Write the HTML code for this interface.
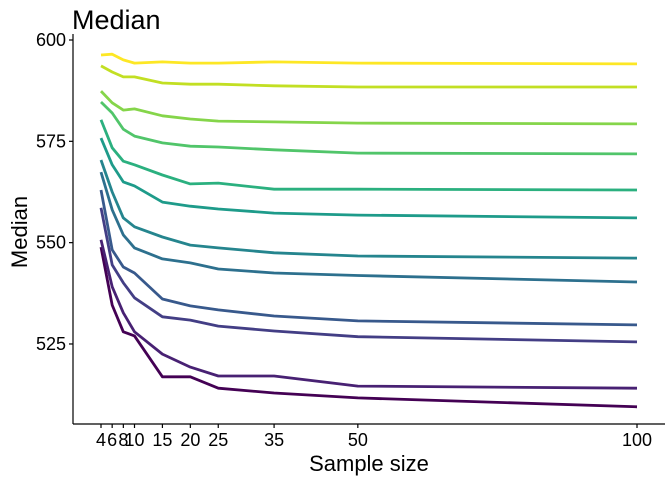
<!DOCTYPE html>
<html><head><meta charset="utf-8"><style>
body{margin:0;background:#fff;}
svg{display:block;font-family:"Liberation Sans",Arial,sans-serif;}
</style></head><body>
<svg id="chart" width="672" height="480">
<text x="72" y="29" font-size="27" fill="#000">Median</text>
<text transform="translate(27,232) rotate(-90)" text-anchor="middle" font-size="22" fill="#000">Median</text>
<text x="369" y="471" text-anchor="middle" font-size="22" fill="#000">Sample size</text>
<g id="axes"></g><g id="lines"></g>
</svg>
<script>
const sampleSizes=[4,6,8,10,15,20,25,35,50,100];
const yTicks=[525,550,575,600];
const s1=[548.9,534.6,528.0,527.0,516.9,516.9,514.1,512.9,511.7,509.5];
const s2=[550.7,539.1,532.7,528.0,522.5,519.3,517.1,517.1,514.6,514.1];
const s3=[558.6,544.5,540.1,536.4,531.7,530.9,529.4,528.2,526.8,525.5];
const s4=[563.0,548.2,544.0,542.5,536.1,534.4,533.4,531.9,530.7,529.7];
const s5=[567.4,558.1,551.9,548.7,546.0,545.0,543.5,542.5,541.9,540.3];
const s6=[570.4,562.5,556.1,553.9,551.4,549.4,548.7,547.5,546.7,546.2];
const s7=[575.8,569.2,565.0,564.0,560.0,559.0,558.3,557.3,556.8,556.1];
const s8=[580.3,573.4,570.1,569.2,566.7,564.5,564.7,563.2,563.2,563.0];
const s9=[584.7,582.0,578.0,576.3,574.6,573.8,573.6,572.9,572.1,571.9];
const s10=[587.4,584.5,582.7,583.0,581.3,580.5,580.0,579.8,579.5,579.3];
const s11=[593.6,592.1,590.9,590.9,589.4,589.1,589.1,588.7,588.4,588.4];
const s12=[596.3,596.5,595.1,594.3,594.6,594.3,594.3,594.6,594.3,594.1];
const seriesList=[s1,s2,s3,s4,s5,s6,s7,s8,s9,s10,s11,s12];
const colors=["#440154","#482173","#433E85","#38598C","#2D708E","#25858E","#1E9B8A","#2BB07F","#51C56A","#85D54A","#C2DF23","#FDE725"];
const NS="http://www.w3.org/2000/svg";
const xS=v=>101+(v-4)*(637-101)/96;
const yS=v=>40+(600-v)*4.053;
const axes=document.getElementById('axes');
function mk(tag,attrs,parent){const e=document.createElementNS(NS,tag);for(const k in attrs)e.setAttribute(k,attrs[k]);parent.appendChild(e);return e;}
let yl=mk('line',{x1:73,y1:34,x2:73,y2:424,stroke:'#000','stroke-width':1.2},axes);


let xl=mk('line',{x1:73,y1:424,x2:665,y2:424,stroke:'#000','stroke-width':1.2},axes);


yTicks.forEach(t=>{
 const tk=mk('line',{x1:69,x2:73,y1:yS(t),y2:yS(t),stroke:'#000','stroke-width':1.2},axes);
 
 
 const lb=mk('text',{x:66,y:yS(t)+6,'text-anchor':'end','font-size':18,fill:'#000'},axes);
 lb.textContent=t;
 
 
});
sampleSizes.forEach(t=>{
 const tk=mk('line',{x1:xS(t),x2:xS(t),y1:424,y2:428,stroke:'#000','stroke-width':1.2},axes);
 
 
 const lb=mk('text',{x:xS(t),y:446,'text-anchor':'middle','font-size':18,fill:'#000'},axes);
 lb.textContent=t;
 
 
});
const lines=document.getElementById('lines');
seriesList.forEach((s,i)=>{
 const d=s.map((v,j)=>(j?'L':'M')+xS(sampleSizes[j]).toFixed(1)+','+yS(v).toFixed(1)).join('');
 const p=mk('path',{d:d,fill:'none',stroke:colors[i],'stroke-width':2.8,'stroke-linejoin':'round'},lines);
 
 
});
</script>
</body></html>
